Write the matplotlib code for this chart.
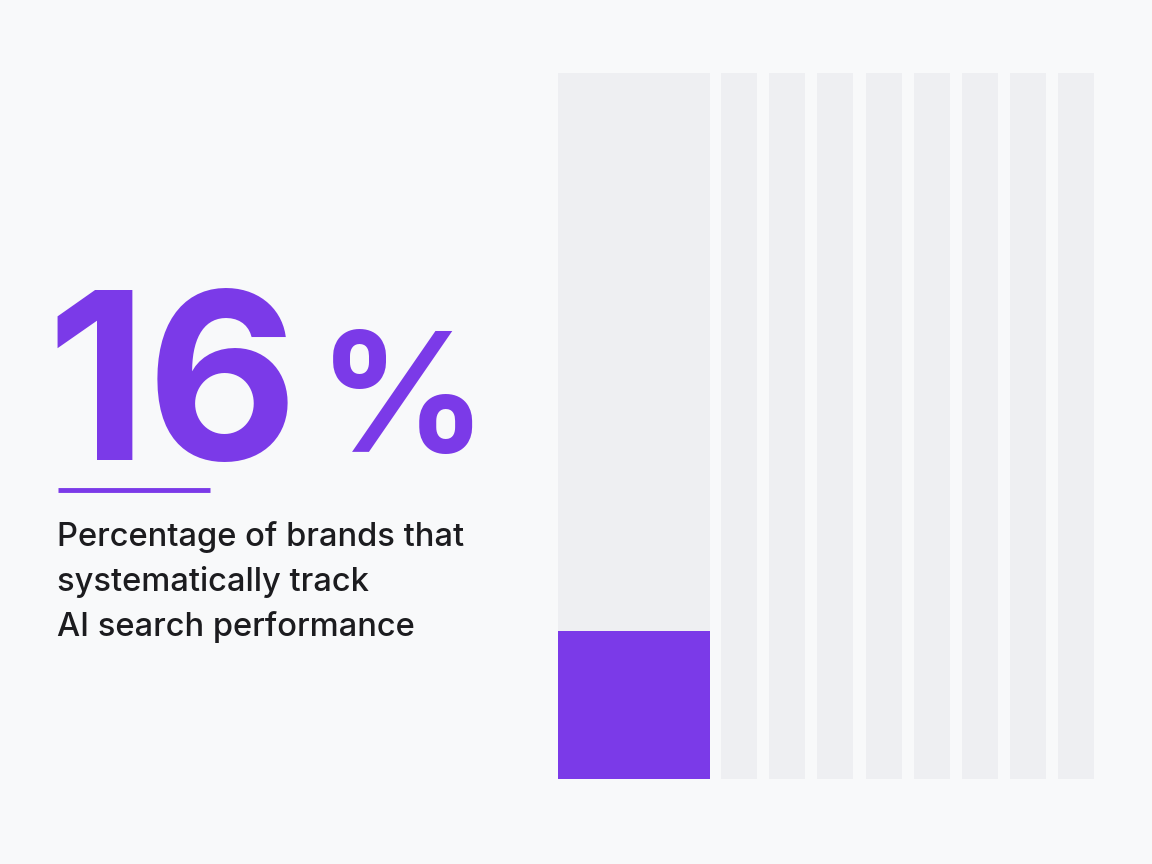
import matplotlib
matplotlib.use("Agg")
import matplotlib.pyplot as plt
from matplotlib.patches import Rectangle

BIG_NUMBER = "16"
BIG_UNIT = "%"
CAPTION = ["Percentage of brands that", "systematically track", "AI search performance"]
FILLED_SHARE = 0.21          # purple share of the wide column
N_THIN = 8                   # thin empty columns

PURPLE = "#7b3ae8"
GREY = "#eeeff2"
BG = "#f8f9fa"

fig = plt.figure(figsize=(11.52, 8.64), dpi=100, facecolor=BG)
ax = fig.add_axes([0, 0, 1, 1])
ax.set_xlim(0, 1152)
ax.set_ylim(864, 0)
ax.axis("off")
ax.set_facecolor(BG)

# wide column
top, bottom = 73, 779
h = bottom - top
ax.add_patch(Rectangle((558, top), 152, h, color=GREY, lw=0))
ax.add_patch(Rectangle((558, bottom - h * FILLED_SHARE), 152, h * FILLED_SHARE,
                       color=PURPLE, lw=0))
# thin columns
for i in range(N_THIN):
    ax.add_patch(Rectangle((721 + 48.2 * i, top), 36, h, color=GREY, lw=0))

# big figure: number and % drawn separately to get the tighter spacing
ax.text(46, 460, BIG_NUMBER, fontsize=168, fontweight="bold", family="Inter",
        color=PURPLE, ha="left", va="baseline")
ax.text(318, 452, BIG_UNIT, fontsize=120, fontweight="bold", family="Inter",
        color=PURPLE, ha="left", va="baseline")
ax.plot([58, 210], [490, 490], color=PURPLE, lw=3.5, solid_capstyle="butt")
for k, line in enumerate(CAPTION):
    ax.text(57, 546 + 45 * k, line, fontsize=23.5, fontweight="medium", family="Inter",
            color="#1c1c1f", ha="left", va="baseline")

fig.savefig("out.png", dpi=100, facecolor=BG)
